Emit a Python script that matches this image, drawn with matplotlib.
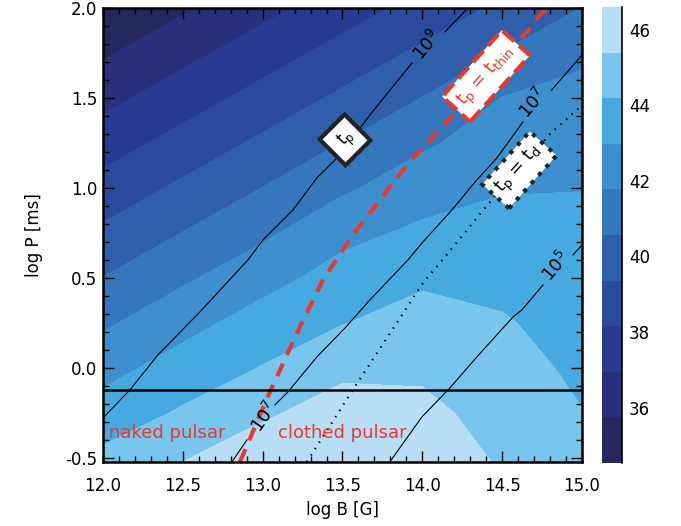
import numpy as np
import matplotlib
matplotlib.use('Agg')
import matplotlib.pyplot as plt
from matplotlib.ticker import MultipleLocator, FormatStrFormatter

# grid of the colour map (log L)
logB = [12.0, 12.5, 13.0, 13.5, 14.0, 14.5, 15.0]
logP = [-0.523, -0.25, 0.0, 0.25, 0.5, 0.75, 1.0, 1.25, 1.5, 1.75, 2.0]
logL = [
    [44.55, 45.40, 46.20, 46.55, 45.95, 45.30, 44.50],
    [43.50, 44.33, 45.20, 45.95, 45.65, 45.00, 44.22],
    [42.55, 43.50, 44.24, 45.10, 45.20, 44.65, 43.95],
    [41.59, 42.57, 43.50, 44.15, 44.65, 44.30, 43.70],
    [40.59, 41.59, 42.55, 43.45, 44.00, 43.85, 43.45],
    [39.59, 40.59, 41.55, 42.65, 43.20, 43.38, 43.20],
    [38.59, 39.59, 40.59, 41.59, 42.45, 42.90, 42.96],
    [37.59, 38.59, 39.59, 40.59, 41.60, 42.35, 42.50],
    [36.59, 37.59, 38.59, 39.59, 40.59, 41.80, 42.15],
    [35.59, 36.59, 37.59, 38.59, 39.59, 40.60, 41.55],
    [34.59, 35.59, 36.59, 37.59, 38.59, 39.59, 40.59],
]
levels = [34.54, 35.75, 36.95, 38.16, 39.36, 40.57, 41.78, 42.98, 44.19, 45.39, 46.6]
band_colors = ['#25285f', '#28307b', '#283a91', '#2b4a9e', '#2f5fab',
               '#3577bd', '#3d8fce', '#46a9e0', '#78c5ed', '#b8def5']
cbar_ticks = [36, 38, 40, 42, 44, 46]

# t_p contour lines (nan = gap for the label)
nan = np.nan
tp9_B = [12.0, 12.169, 12.344, 12.607, 12.908, 13.002, 13.19, 13.34, 13.466, 13.61, 13.672, 13.935, nan, 14.142, 14.286]
tp9_P = [-0.278, -0.122, 0.072, 0.311, 0.6, 0.711, 0.878, 1.056, 1.167, 1.333, 1.406, 1.694, nan, 1.867, 2.0]
tp7_B = [12.808, 12.902, nan, 13.077, 13.159, 13.34, 13.516, 13.672, 13.91, 14.004, 14.186, 14.33, 14.468, 14.63, nan, 14.81, 15.0]
tp7_P = [-0.522, -0.4, nan, -0.206, -0.133, 0.061, 0.222, 0.378, 0.6, 0.7, 0.878, 1.033, 1.167, 1.367, nan, 1.544, 1.739]
tp5_B = [13.797, 13.998, 14.173, 14.342, 14.568, 14.624, 14.756, nan, 14.944, 15.0]
tp5_P = [-0.522, -0.272, -0.111, 0.061, 0.283, 0.322, 0.461, nan, 0.628, 0.683]

# t_p = t_thin (red dashed) and t_p = t_d (dotted)
thin_B = [12.858, 13.046, 13.215, 13.378, 13.565, 13.734, 13.904, 14.154, 14.655, 14.737, 14.79]
thin_P = [-0.522, -0.133, 0.194, 0.489, 0.74, 0.933, 1.128, 1.367, 1.867, 1.961, 2.0]
td_B = [13.277, 13.565, 14.004, 14.173, 14.45, 14.8, 15.0]
td_P = [-0.522, -0.122, 0.472, 0.65, 0.95, 1.3, 1.46]

p_split = -0.123
red = '#e8392b'

fig = plt.figure(figsize=(6.81, 5.26), dpi=100)
ax = fig.add_axes([0.1512, 0.1217, 0.7034, 0.8631])
cax = fig.add_axes([0.884, 0.1198, 0.0294, 0.8669])

cf = ax.contourf(logB, logP, logL, levels=levels, colors=band_colors)

ax.plot(tp9_B, tp9_P, color='k', lw=0.8)
ax.plot(tp7_B, tp7_P, color='k', lw=0.8)
ax.plot(tp5_B, tp5_P, color='k', lw=0.8)
ax.plot(thin_B, thin_P, color=red, lw=3, dashes=(3.3, 2.3))
ax.plot(td_B, td_P, color='k', lw=1.6, dashes=(0.6, 2.8))
ax.axhline(p_split, color='k', lw=1.8)

lab = dict(fontsize=13, ha='center', va='center', rotation_mode='anchor')
ax.text(14.029, 1.794, r'10$^9$', rotation=50, **lab)
ax.text(14.693, 1.467, r'10$^7$', rotation=50, **lab)
ax.text(13.015, -0.272, r'10$^7$', rotation=55, **lab)
ax.text(14.837, 0.561, r'10$^5$', rotation=50, **lab)

ax.text(13.516, 1.267, r' t$_\mathregular{p}$ ', rotation=45, fontsize=12, ha='center', va='center',
        rotation_mode='anchor',
        bbox=dict(boxstyle='square,pad=0.4', fc='white', ec='#222222', lw=3))
ax.text(14.399, 1.622, r't$_\mathregular{p}$ = t$_\mathregular{thin}$', rotation=48, fontsize=13,
        color=red, ha='center', va='center', rotation_mode='anchor',
        bbox=dict(boxstyle='square,pad=0.4', fc='white', ec=red, lw=3, ls='--'))
ax.text(14.608, 1.1, r't$_\mathregular{p}$ = t$_\mathregular{d}$', rotation=48, fontsize=13,
        ha='center', va='center', rotation_mode='anchor',
        bbox=dict(boxstyle='square,pad=0.35', fc='white', ec='#222222', lw=3, ls=':'))

ax.text(12.04, -0.361, 'naked pulsar', color=red, fontsize=13, ha='left', va='center')
ax.text(13.096, -0.361, 'clothed pulsar', color=red, fontsize=13, ha='left', va='center')

ax.set_xlim(12.0, 15.0)
ax.set_ylim(-0.523, 2.0)
ax.xaxis.set_major_locator(MultipleLocator(0.5))
ax.xaxis.set_minor_locator(MultipleLocator(0.1))
ax.yaxis.set_major_locator(MultipleLocator(0.5))
ax.yaxis.set_minor_locator(MultipleLocator(0.1))
ax.xaxis.set_major_formatter(FormatStrFormatter('%.1f'))
ax.yaxis.set_major_formatter(FormatStrFormatter('%.1f'))
ax.tick_params(which='both', direction='in', top=True, right=True, labelsize=12, width=1.0)
ax.tick_params(which='major', length=8)
ax.tick_params(which='minor', length=4)
ax.tick_params(axis='x', which='major', pad=11)
ax.tick_params(axis='y', which='major', pad=4)
for s in ax.spines.values():
    s.set_linewidth(1.8)
ax.set_xlabel('log B [G]', fontsize=12, labelpad=4)
ax.set_ylabel('log P [ms]', fontsize=12, labelpad=16)

cb = fig.colorbar(cf, cax=cax, ticks=cbar_ticks)
cb.outline.set_visible(False)
cax.tick_params(length=0, labelsize=12, pad=5)
cax.plot([1, 1], [0, 1], transform=cax.transAxes, color='k', lw=1.2, clip_on=False)

fig.savefig('out.png', dpi=100)
